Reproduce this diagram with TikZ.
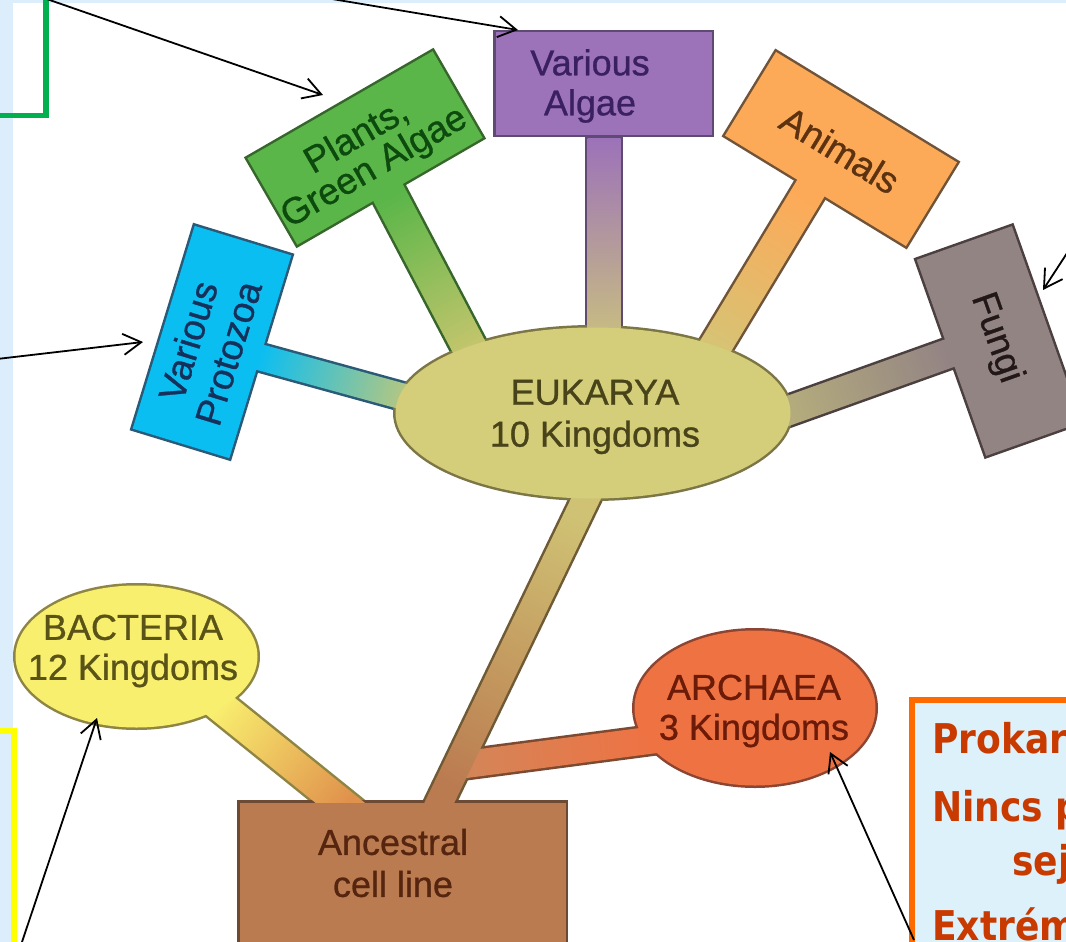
\documentclass[tikz,border=0pt]{standalone}
\usepackage{fontspec}
\setmainfont[FakeBold=0.8]{Liberation Sans}
\newfontfamily\notefont[FakeStretch=0.88]{DejaVu Sans}
\usetikzlibrary{calc,arrows.meta}

% page and frames
\definecolor{sky}{HTML}{DCEEFB}
\definecolor{notebg}{HTML}{DDF1FB}
\definecolor{framegreen}{HTML}{00B04F}
\definecolor{frameyellow}{HTML}{FFFF00}
\definecolor{frameorange}{HTML}{FF6A00}
\definecolor{notered}{HTML}{C93A00}
% tree colours: fill, rim, ink, and the blend towards the trunk
\definecolor{plantfill}{HTML}{5BB649}\definecolor{plantrim}{HTML}{37662C}\definecolor{plantink}{HTML}{0C4A0E}\definecolor{plantmix}{HTML}{C3C56C}
\definecolor{algaefill}{HTML}{9C72B9}\definecolor{algaerim}{HTML}{5E4A72}\definecolor{algaeink}{HTML}{3B2060}\definecolor{algaemix}{HTML}{CFC979}
\definecolor{animalfill}{HTML}{FDAA58}\definecolor{animalrim}{HTML}{6F5439}\definecolor{animalink}{HTML}{5C3210}\definecolor{animalmix}{HTML}{D8C274}
\definecolor{fungifill}{HTML}{938484}\definecolor{fungirim}{HTML}{4B3F3F}\definecolor{fungiink}{HTML}{231818}\definecolor{fungimix}{HTML}{B5AD7C}
\definecolor{protofill}{HTML}{0BBEF2}\definecolor{protorim}{HTML}{2A5A78}\definecolor{protoink}{HTML}{15305A}\definecolor{protomix}{HTML}{B9C77E}
\definecolor{eukfill}{HTML}{D4CE7B}\definecolor{eukrim}{HTML}{7C7646}\definecolor{eukink}{HTML}{49431A}
\definecolor{bactfill}{HTML}{F9EF6F}\definecolor{bactrim}{HTML}{8E8544}\definecolor{bactink}{HTML}{5A5318}\definecolor{bactmix}{HTML}{E0914C}
\definecolor{archfill}{HTML}{EF7243}\definecolor{archrim}{HTML}{8C4532}\definecolor{archink}{HTML}{6B1B08}
\definecolor{archstem}{HTML}{D48558}\definecolor{archstemrim}{HTML}{7C4A30}
\definecolor{ancfill}{HTML}{BB7B50}\definecolor{ancrim}{HTML}{6C4A33}\definecolor{ancink}{HTML}{55250F}
\definecolor{trunktop}{HTML}{CFC274}\definecolor{trunkrim}{HTML}{6F5A36}

\pgfdeclarelayer{ground}
\pgfdeclarelayer{rim}
\pgfdeclarelayer{paint}
\pgfsetlayers{ground,rim,paint,main}

\newcommand\rimw{5pt}

% branch: root, end, half width, colour at root, colour at end, shading angle, rim colour
\newcommand\branch[7]{%
  \begin{pgfonlayer}{rim}
    \draw[#7, line width=\rimw]
      ($(#1)!#3!90:(#2)$) -- ($(#2)!#3!-90:(#1)$) -- ($(#2)!#3!90:(#1)$) -- ($(#1)!#3!-90:(#2)$) -- cycle;
  \end{pgfonlayer}
  \begin{pgfonlayer}{paint}
    \shade[bottom color=#4, top color=#5, shading angle=#6]
      ($(#1)!#3!90:(#2)$) -- ($(#2)!#3!-90:(#1)$) -- ($(#2)!#3!90:(#1)$) -- ($(#1)!#3!-90:(#2)$) -- cycle;
  \end{pgfonlayer}}

% signboard: centre, angle, width, height, fill, rim
\newcommand\tagrect[6]{%
  \begin{pgfonlayer}{rim}
    \draw[#6, line width=\rimw, shift={(#1)}, rotate=#2] (-#3/2,-#4/2) rectangle (#3/2,#4/2);
  \end{pgfonlayer}
  \begin{pgfonlayer}{paint}
    \fill[#5, shift={(#1)}, rotate=#2] (-#3/2,-#4/2) rectangle (#3/2,#4/2);
  \end{pgfonlayer}}

% domain bubble: centre, x radius, y radius, fill, rim
\newcommand\tagoval[5]{%
  \begin{pgfonlayer}{rim}
    \draw[#5, line width=\rimw] (#1) ellipse [x radius=#2, y radius=#3];
  \end{pgfonlayer}
  \begin{pgfonlayer}{paint}
    \fill[#4] (#1) ellipse [x radius=#2, y radius=#3];
  \end{pgfonlayer}}

\tikzset{
  lbl/.style={inner sep=0pt, align=center, font=\fontsize{36}{40}\selectfont},
  pointer/.style={-{Straight Barb[length=18pt,width=21pt]}, line width=1.8pt, black},
  note/.style={anchor=base west, inner sep=0pt, text=notered,
    font=\notefont\bfseries\fontsize{41}{48}\selectfont},
}

\begin{document}
\begin{tikzpicture}[x=1pt,y=-1pt]
\useasboundingbox (0,0) rectangle (1066,942);
\begin{pgfonlayer}{ground}
  \fill[sky] (0,0) rectangle (1066,942);
  \fill[white] (13,3) rectangle (1066,942);
\end{pgfonlayer}

% ---- branch end points
\coordinate (algae-root)   at (604,138);  \coordinate (algae-end)   at (604,368);
\coordinate (plants-root)  at (383,183);  \coordinate (plants-end)  at (477,362);
\coordinate (animals-root) at (814,183);  \coordinate (animals-end) at (709,357);
\coordinate (fungi-root)   at (961,349);  \coordinate (fungi-end)   at (771,417);
\coordinate (proto-root)   at (248,354);  \coordinate (proto-end)   at (419,401);
\coordinate (arch-root)    at (462,765);  \coordinate (arch-end)    at (660,739);
\coordinate (bact-root)    at (204,693);  \coordinate (bact-end)    at (359,818);
\coordinate (trunk-top)    at (594,482);  \coordinate (trunk-foot)  at (432,818);

% ---- branches (painted under the boards)
\branch{algae-root}{algae-end}{16.5pt}{algaefill}{algaemix}{-180}{algaerim}
\branch{plants-root}{plants-end}{17pt}{plantfill}{plantmix}{-152.3}{plantrim}
\branch{animals-root}{animals-end}{16pt}{animalfill}{animalmix}{148.9}{animalrim}
\branch{fungi-root}{fungi-end}{14.5pt}{fungifill}{fungimix}{109.7}{fungirim}
\branch{proto-root}{proto-end}{13pt}{protofill}{protomix}{-105.4}{protorim}
\branch{arch-root}{arch-end}{13.5pt}{archstem}{archfill}{-82.5}{archstemrim}
\branch{bact-root}{bact-end}{15.5pt}{bactfill}{bactmix}{-129}{bactrim}
\branch{trunk-top}{trunk-foot}{13.5pt}{trunktop}{ancfill}{154.3}{trunkrim}

% ---- boards and bubbles
\tagrect{365,148}{30}{214}{100}{plantfill}{plantrim}
\tagrect{603.5,83.5}{0}{216}{102}{algaefill}{algaerim}
\tagrect{841,149}{-31.4}{212}{98}{animalfill}{animalrim}
\tagrect{999,341}{-70.5}{208}{101}{fungifill}{fungirim}
\tagrect{212,342}{73}{212}{101}{protofill}{protorim}
\tagrect{402.5,881}{0}{326}{157}{ancfill}{ancrim}
\tagoval{593,413}{197.5}{85.5}{eukfill}{eukrim}
\tagoval{136.5,656.5}{121}{71}{bactfill}{bactrim}
\tagoval{755,708}{120.5}{77.5}{archfill}{archrim}

% ---- labels
\node[lbl, text=plantink, rotate=30, font=\fontsize{37}{35}\selectfont] (plants) at (366,153) {Plants,\\Green Algae};
\node[lbl, text=algaeink] (algae) at (590,86) {Various\\Algae};
\node[lbl, text=animalink, rotate=-31.4, font=\fontsize{37}{40}\selectfont] (animals) at (840,150) {Animals};
\node[lbl, text=fungiink, rotate=-70.5, font=\fontsize{37}{40}\selectfont] (fungi) at (996,338) {Fungi};
\node[lbl, text=protoink, rotate=73, font=\fontsize{37}{42}\selectfont] (protozoa) at (208,347) {Various\\Protozoa};
\node[lbl, text=eukink, font=\fontsize{36}{42}\selectfont] (eukarya) at (595,417) {EUKARYA\\10 Kingdoms};
\node[lbl, text=bactink] (bacteria) at (133,651) {BACTERIA\\12 Kingdoms};
\node[lbl, text=archink] (archaea) at (754,711) {ARCHAEA\\3 Kingdoms};
\node[lbl, text=ancink, font=\fontsize{36}{42}\selectfont] (ancestral) at (393,863) {Ancestral\\cell line};

% ---- note frames
\draw[framegreen, line width=5.5pt] (-20,-20) rectangle (46,115.5);
\draw[frameyellow, line width=6pt] (-20,730.5) rectangle (13.5,980);
\draw[frameorange, line width=6pt, fill=notebg] (911.5,700) rectangle (1090,980);
\node[note] (note-a) at (932,753) {Prokar};
\node[note] (note-b) at (932,821) {Nincs p};
\node[note] (note-c) at (1012,875) {sej};
\node[note] (note-d) at (932,940) {Extrém};

% ---- pointers
\coordinate (green-src)  at (41,-3);    \coordinate (plants-tip) at (323,95);
\coordinate (top-src)    at (320,-3);   \coordinate (algae-tip)  at (518,30);
\coordinate (left-src)   at (-3,359);   \coordinate (proto-tip)  at (143,342);
\coordinate (right-src)  at (1071,247); \coordinate (fungi-tip)  at (1043,290);
\coordinate (yellow-src) at (21,945);   \coordinate (bact-tip)   at (97,718);
\coordinate (orange-src) at (914,940);  \coordinate (arch-tip)   at (830,752);
\draw[pointer] (green-src)  -- (plants-tip);
\draw[pointer] (top-src)    -- (algae-tip);
\draw[pointer] (left-src)   -- (proto-tip);
\draw[pointer] (right-src)  -- (fungi-tip);
\draw[pointer] (yellow-src) -- (bact-tip);
\draw[pointer] (orange-src) -- (arch-tip);
\end{tikzpicture}
\end{document}
